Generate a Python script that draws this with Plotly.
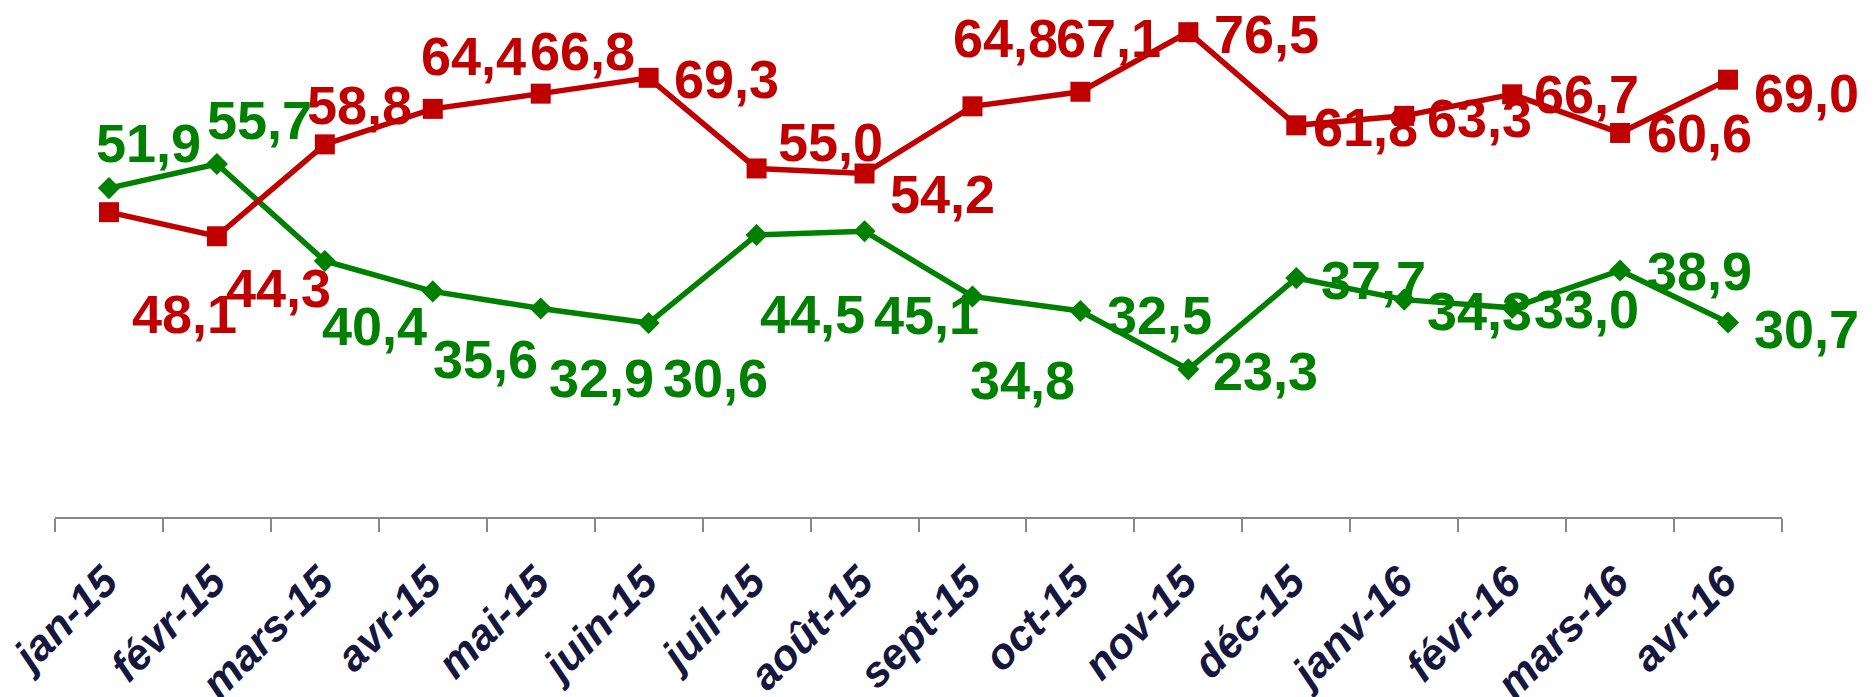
import plotly.graph_objects as go

categories = ["jan-15", "févr-15", "mars-15", "avr-15", "mai-15", "juin-15", "juil-15", "août-15",
              "sept-15", "oct-15", "nov-15", "déc-15", "janv-16", "févr-16", "mars-16", "avr-16"]
red_values = [48.1, 44.3, 58.8, 64.4, 66.8, 69.3, 55.0, 54.2, 64.8, 67.1, 76.5, 61.8, 63.3, 66.7, 60.6, 69.0]
green_values = [51.9, 55.7, 40.4, 35.6, 32.9, 30.6, 44.5, 45.1, 34.8, 32.5, 23.3, 37.7, 34.3, 33.0, 38.9, 30.7]

# label offsets in pixels (x, y-down) relative to each point
red_offsets = [(76, 102), (62, 52), (35, -39), (41, -53), (42, -43), (78, 1), (74, -26), (78, 20),
               (33, -68), (28, -54), (78, 2), (69, 2), (75, 2), (74, 0), (79, 0), (78, 13)]
green_offsets = [(40, -45), (43, -44), (50, 65), (53, 68), (61, 69), (67, 55), (56, 79), (62, 84),
                 (50, 84), (79, 4), (77, 2), (77, 2), (75, 11), (74, 1), (79, 1), (78, 7)]

RED = "#C00000"
GREEN = "#008000"

fig = go.Figure()
fig.add_trace(go.Scatter(x=categories, y=green_values, mode="lines+markers",
                         line=dict(color=GREEN, width=5.5),
                         marker=dict(symbol="diamond", size=17, color=GREEN)))
fig.add_trace(go.Scatter(x=categories, y=red_values, mode="lines+markers",
                         line=dict(color=RED, width=5.5),
                         marker=dict(symbol="square", size=20, color=RED)))

def fmt(v):
    return f"{v:.1f}".replace(".", ",")

for vals, offs, col in ((green_values, green_offsets, GREEN), (red_values, red_offsets, RED)):
    for c, v, (dx, dy) in zip(categories, vals, offs):
        fig.add_annotation(x=c, y=v, text=fmt(v), showarrow=False,
                           xshift=dx, yshift=-dy, xanchor="center", yanchor="middle",
                           font=dict(family="Liberation Sans, Arial, sans-serif", size=54,
                                     color=col, weight="bold"))

# the page body adds an 8px margin, so the figure is sized to fit the window exactly
fig.update_layout(
    width=1866, height=689,
    margin=dict(l=47, r=92, t=2, b=180, autoexpand=False),
    paper_bgcolor="white", plot_bgcolor="white",
    showlegend=False,
    xaxis=dict(type="category", range=[-0.5, 15.5], showgrid=False, zeroline=False,
               automargin=False,
               showline=True, linecolor="#888888", linewidth=2,
               ticks="outside", tickson="boundaries", ticklen=13, tickwidth=2, tickcolor="#888888",
               tickangle=-45, ticklabelstandoff=20, ticklabelshift=-4,
               tickfont=dict(family="Liberation Sans, Arial, sans-serif", size=43,
                             color="#15173F", weight="bold", style="italic")),
    yaxis=dict(range=[0, 80], visible=False, showgrid=False, zeroline=False, automargin=False),
)

fig.write_html("out.html")
